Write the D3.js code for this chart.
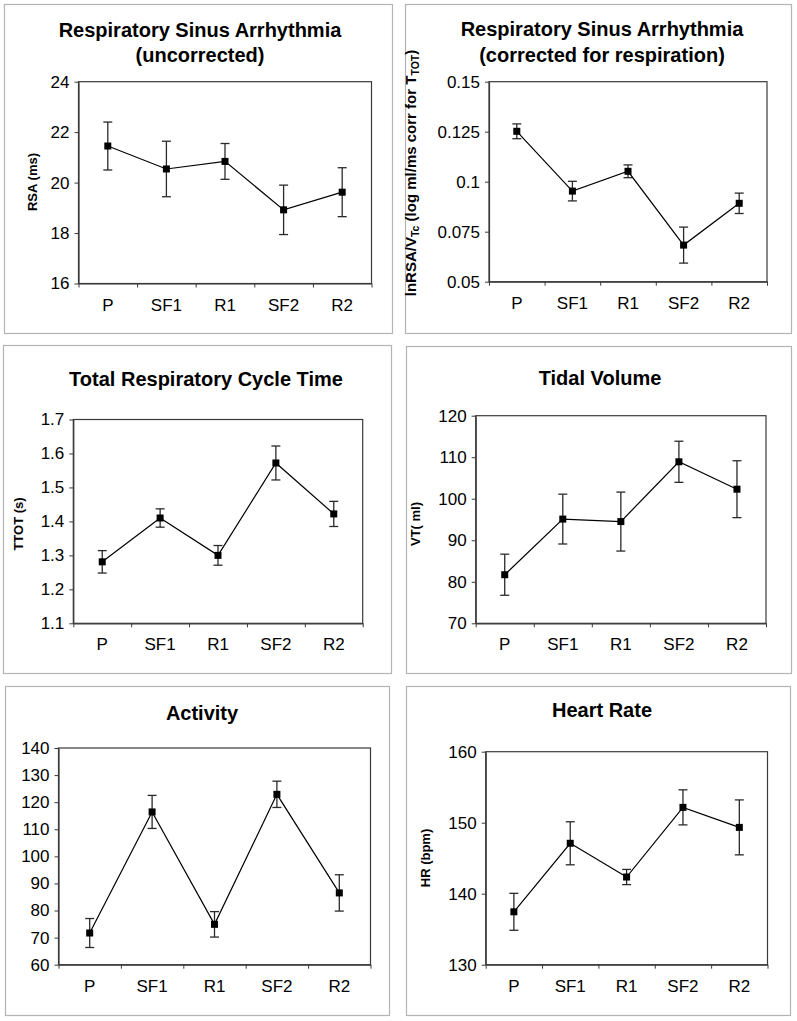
<!DOCTYPE html>
<html>
<head>
<meta charset="utf-8">
<script src="https://cdn.jsdelivr.net/npm/d3@7"></script>
<style>
  html, body { margin: 0; padding: 0; background: #ffffff; }
  svg { display: block; }
  text { font-family: "Liberation Sans", Arial, sans-serif; fill: #000; }
</style>
</head>
<body>
<svg id="chart" width="797" height="1021"></svg>
<script>
// ---------------- DATA ----------------
const categories = ["P", "SF1", "R1", "SF2", "R2"];

const rsaMean = [21.45, 20.54, 20.84, 18.92, 19.62];
const rsaSE   = [0.95, 1.10, 0.71, 0.98, 0.97];
const rsaTicks = [16, 18, 20, 22, 24];

const rsaCorrMean = [0.1252, 0.0953, 0.1052, 0.0683, 0.0892];
const rsaCorrSE   = [0.0037, 0.0049, 0.0032, 0.0090, 0.0051];
const rsaCorrTicks = [0.05, 0.075, 0.1, 0.125, 0.15];

const ttotMean = [1.281, 1.410, 1.300, 1.572, 1.422];
const ttotSE   = [0.033, 0.027, 0.029, 0.050, 0.037];
const ttotTicks = [1.1, 1.2, 1.3, 1.4, 1.5, 1.6, 1.7];

const vtMean = [81.7, 95.1, 94.5, 108.9, 102.3];
const vtSE   = [4.95, 6.0, 7.1, 4.95, 6.85];
const vtTicks = [70, 80, 90, 100, 110, 120];

const actMean = [71.7, 116.4, 74.9, 122.9, 86.5];
const actSE   = [5.35, 6.1, 4.7, 4.85, 6.7];
const actTicks = [60, 70, 80, 90, 100, 110, 120, 130, 140];

const hrMean = [137.45, 147.1, 142.35, 152.16, 149.34];
const hrSE   = [2.6, 3.03, 1.07, 2.47, 3.87];
const hrTicks = [130, 140, 150, 160];

const titles = [
  ["Respiratory Sinus Arrhythmia", "(uncorrected)"],
  ["Respiratory Sinus Arrhythmia", "(corrected for respiration)"],
  ["Total Respiratory Cycle Time"],
  ["Tidal Volume"],
  ["Activity"],
  ["Heart Rate"]
];
// y-axis labels as pieces: [text, isSubscript]
const yLabels = [
  [["RSA (ms)", false]],
  [["lnRSA/V", false], ["Tc", true], [" (log ml/ms corr for T", false], ["TOT", true], [")", false]],
  [["TTOT (s)", false]],
  [["VT( ml)", false]],
  [],
  [["HR (bpm)", false]]
];

// ---------------- LAYOUT ----------------
const layout = [
  { frame: [4, 4, 392, 333],    plot: [78.5, 81.7, 371.5, 283.5], titleX: 200, titleY: [37, 62], labelX: 32, labelY: 182, labelSize: 13 },
  { frame: [405, 4, 791, 333],  plot: [489, 81.7, 767, 281.7],   titleX: 602, titleY: [36, 62], labelX: 411, labelY: 173, labelSize: 15 },
  { frame: [3, 345, 391, 673],  plot: [73.3, 419.5, 362.7, 623.3], titleX: 206, titleY: [386], labelX: 18, labelY: 524, labelSize: 13 },
  { frame: [406, 346, 791, 673], plot: [475.7, 415.7, 766, 623.3], titleX: 600, titleY: [385], labelX: 415, labelY: 524, labelSize: 13 },
  { frame: [5, 686, 389, 1015], plot: [58.5, 748, 370.5, 964.7], titleX: 202, titleY: [720], labelX: 0, labelY: 856, labelSize: 13 },
  { frame: [406, 686, 790, 1015], plot: [485.7, 751.7, 767.5, 964.7], titleX: 602, titleY: [717], labelX: 425, labelY: 858, labelSize: 13 }
];

const series = [
  { mean: rsaMean, se: rsaSE, ticks: rsaTicks, fmt: d => String(d) },
  { mean: rsaCorrMean, se: rsaCorrSE, ticks: rsaCorrTicks, fmt: d => String(d) },
  { mean: ttotMean, se: ttotSE, ticks: ttotTicks, fmt: d => d.toFixed(1) },
  { mean: vtMean, se: vtSE, ticks: vtTicks, fmt: d => String(d) },
  { mean: actMean, se: actSE, ticks: actTicks, fmt: d => String(d) },
  { mean: hrMean, se: hrSE, ticks: hrTicks, fmt: d => String(d) }
];

const svg = d3.select("#chart");
svg.append("rect").attr("width", 797).attr("height", 1021).attr("fill", "#fff");

series.forEach((s, i) => {
  const L = layout[i];
  const [fx0, fy0, fx1, fy1] = L.frame;
  const [px0, py0, px1, py1] = L.plot;
  const g = svg.append("g");

  // panel border
  g.append("rect")
    .attr("x", fx0 + 0.5).attr("y", fy0 + 0.5)
    .attr("width", fx1 - fx0).attr("height", fy1 - fy0)
    .attr("fill", "#fff").attr("stroke", "#b4b4b4").attr("stroke-width", 1.2);

  // title
  titles[i].forEach((line, k) => {
    g.append("text")
      .attr("x", L.titleX).attr("y", L.titleY[k])
      .attr("text-anchor", "middle")
      .attr("font-size", 20).attr("font-weight", "bold")
      .text(line);
  });

  const yMin = d3.min(s.ticks), yMax = d3.max(s.ticks);
  const y = d3.scaleLinear().domain([yMin, yMax]).range([py1, py0]);
  const x = d3.scaleBand().domain(categories).range([px0, px1]).padding(0);
  const xEdge = d3.scaleLinear().domain([0, categories.length]).range([px0, px1]);

  // plot frame
  g.append("rect")
    .attr("x", px0).attr("y", py0)
    .attr("width", px1 - px0).attr("height", py1 - py0)
    .attr("fill", "none").attr("stroke", "#3a3a3a").attr("stroke-width", 1.2);

  // y axis
  const ya = g.append("g").attr("transform", `translate(${px0},0)`)
    .call(d3.axisLeft(y).tickValues(s.ticks).tickFormat(s.fmt).tickSize(4).tickSizeOuter(0).tickPadding(5));
  ya.select(".domain").attr("stroke", "#3a3a3a").attr("stroke-width", 1.2);
  ya.selectAll(".tick line").attr("stroke", "#3a3a3a");
  ya.selectAll(".tick text").attr("font-size", 17).attr("font-family", "Liberation Sans, Arial, sans-serif").attr("fill", "#000");

  // x axis tick marks at category edges
  const xt = g.append("g").attr("transform", `translate(0,${py1})`)
    .call(d3.axisBottom(xEdge).tickValues(d3.range(categories.length + 1)).tickFormat("").tickSize(4).tickSizeOuter(0));
  xt.select(".domain").attr("stroke", "#3a3a3a").attr("stroke-width", 1.2);
  xt.selectAll(".tick line").attr("stroke", "#3a3a3a");

  // x axis category labels
  const xl = g.append("g").attr("transform", `translate(0,${py1})`)
    .call(d3.axisBottom(x).tickSize(0).tickPadding(15));
  xl.select(".domain").remove();
  xl.selectAll(".tick text").attr("font-size", 17).attr("font-family", "Liberation Sans, Arial, sans-serif").attr("fill", "#000");

  // y label
  if (yLabels[i].length) {
    const t = g.append("text")
      .attr("transform", `translate(${L.labelX},${L.labelY}) rotate(-90)`)
      .attr("text-anchor", "middle")
      .attr("dy", "0.35em")
      .attr("font-size", L.labelSize).attr("font-weight", "bold");
    yLabels[i].forEach(([txt, sub]) => {
      const ts = t.append("tspan").text(txt);
      if (sub) ts.attr("font-size", L.labelSize * 0.7).attr("baseline-shift", "-3");
    });
  }

  const cx = d => x(d) + x.bandwidth() / 2;
  const pts = categories.map((c, j) => ({ c, m: s.mean[j], e: s.se[j] }));

  // error bars
  const eb = g.append("g").attr("stroke", "#2a2a2a").attr("stroke-width", 1.3);
  pts.forEach(p => {
    const xc = cx(p.c);
    eb.append("line").attr("x1", xc).attr("x2", xc).attr("y1", y(p.m + p.e)).attr("y2", y(p.m - p.e));
    eb.append("line").attr("x1", xc - 4.5).attr("x2", xc + 4.5).attr("y1", y(p.m + p.e)).attr("y2", y(p.m + p.e));
    eb.append("line").attr("x1", xc - 4.5).attr("x2", xc + 4.5).attr("y1", y(p.m - p.e)).attr("y2", y(p.m - p.e));
  });

  // line
  g.append("path")
    .datum(pts)
    .attr("fill", "none").attr("stroke", "#000").attr("stroke-width", 1.2)
    .attr("d", d3.line().x(p => cx(p.c)).y(p => y(p.m)));

  // markers
  g.selectAll(null).data(pts).enter().append("rect")
    .attr("x", p => cx(p.c) - 3.5).attr("y", p => y(p.m) - 3.5)
    .attr("width", 7).attr("height", 7).attr("fill", "#000");
});
</script>
</body>
</html>
